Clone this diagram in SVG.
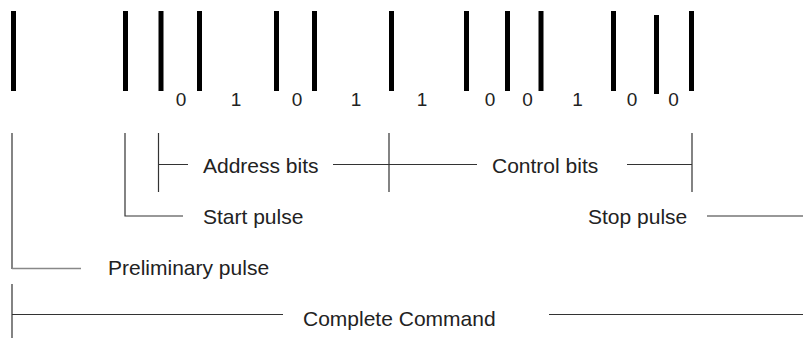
<svg xmlns="http://www.w3.org/2000/svg" width="803" height="338" viewBox="0 0 803 338">
<style>
.bar{fill:#000}
.dig{font-family:"Liberation Sans",Arial,sans-serif;font-size:19px;fill:#222;text-anchor:middle}
.lbl{font-family:"Liberation Sans",Arial,sans-serif;font-size:21px;fill:#222}
.ln{stroke:#333;stroke-width:1.2;fill:none}
.lg{stroke:#888;stroke-width:1.5;fill:none}
</style>
<g id="pulses">
<rect class="bar" x="11" y="11" width="5" height="80"/>
<rect class="bar" x="123" y="11" width="5" height="80"/>
<rect class="bar" x="158.5" y="11" width="5" height="80"/>
<rect class="bar" x="197" y="11" width="5" height="80"/>
<rect class="bar" x="274" y="11" width="5" height="80"/>
<rect class="bar" x="312" y="11" width="5" height="80"/>
<rect class="bar" x="389" y="11" width="5" height="80"/>
<rect class="bar" x="464" y="11" width="5" height="80"/>
<rect class="bar" x="505" y="11" width="5" height="80"/>
<rect class="bar" x="538.5" y="11" width="5" height="80"/>
<rect class="bar" x="611" y="11" width="5" height="80"/>
<rect class="bar" x="654" y="15" width="5" height="79"/>
<rect class="bar" x="689" y="11" width="5" height="80"/>
</g>
<g id="bits">
<text class="dig" x="181" y="106">0</text>
<text class="dig" x="236" y="106">1</text>
<text class="dig" x="297" y="106">0</text>
<text class="dig" x="356" y="106">1</text>
<text class="dig" x="422" y="106">1</text>
<text class="dig" x="490" y="106">0</text>
<text class="dig" x="527.5" y="106">0</text>
<text class="dig" x="577.5" y="106">1</text>
<text class="dig" x="632" y="106">0</text>
<text class="dig" x="673.5" y="106">0</text>
</g>
<g id="connectors">
<path class="ln" d="M158.5 133V192M158.5 164.5H188"/>
<path class="ln" d="M333 164.5H477M389 133V192"/>
<path class="ln" d="M627 164.5H692M692 133V192"/>
<path class="ln" d="M125 133V216H183"/>
<path class="ln" d="M707 216H803"/>
<path class="ln" d="M12 133V269"/>
<path class="lg" d="M12 268.5H81"/>
<path class="ln" d="M12 284V338M12 314.5H283M549 314.5H803"/>
</g>
<g id="address-bits"><text class="lbl" x="203" y="173">Address bits</text></g>
<g id="control-bits"><text class="lbl" x="492" y="173">Control bits</text></g>
<g id="start-pulse"><text class="lbl" x="203" y="224">Start pulse</text></g>
<g id="stop-pulse"><text class="lbl" x="588" y="224">Stop pulse</text></g>
<g id="preliminary-pulse"><text class="lbl" x="108" y="275">Preliminary pulse</text></g>
<g id="complete-command"><text class="lbl" x="303" y="326">Complete Command</text></g>
</svg>
